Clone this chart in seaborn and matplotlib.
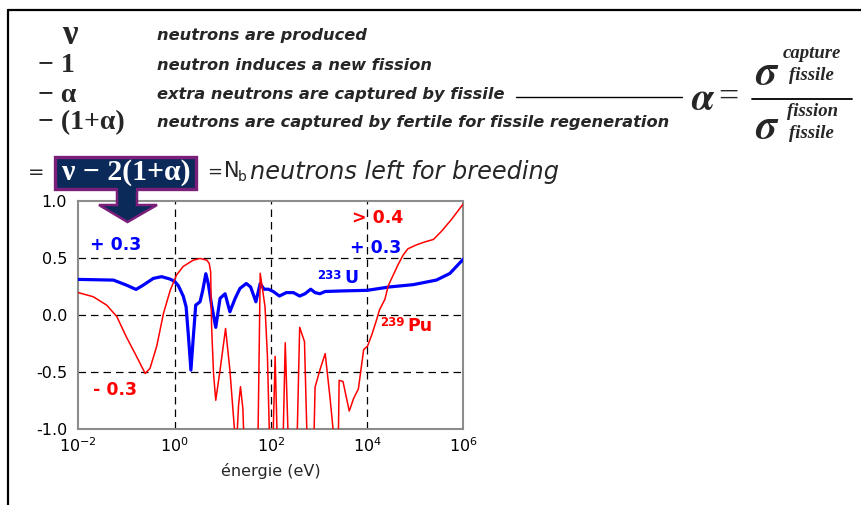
import numpy as np
import pandas as pd
import matplotlib
matplotlib.use("Agg")
import matplotlib.pyplot as plt
from matplotlib.patches import Rectangle, Polygon
from matplotlib.lines import Line2D
import seaborn as sns

# ---------------- data ----------------
red_log_energy = [-2.0, -1.69, -1.41, -1.2, -1.0, -0.79, -0.61, -0.51, -0.37, -0.23, -0.09, 0.04,
                  0.18, 0.39, 0.53, 0.67, 0.72, 0.75, 0.77, 0.81, 0.856, 0.946, 1.06, 1.15, 1.24,
                  1.28, 1.33, 1.37, 1.42, 1.45, 1.73, 1.78, 1.88, 1.93, 1.98, 2.04, 2.09, 2.14,
                  2.25, 2.30, 2.37, 2.54, 2.60, 2.70, 2.76, 2.89, 2.92, 3.02, 3.13, 3.23, 3.34,
                  3.40, 3.42, 3.50, 3.63, 3.72, 3.82, 3.93, 4.01, 4.10, 4.19, 4.26, 4.37, 4.44,
                  4.55, 4.65, 4.75, 4.85, 5.03, 5.2, 5.38, 5.55, 5.75, 6.0]
red_nb = [0.20, 0.164, 0.09, -0.01, -0.19, -0.36, -0.51, -0.465, -0.27, 0.018, 0.22, 0.354,
          0.43, 0.485, 0.50, 0.485, 0.457, 0.385, -0.098, -0.51, -0.745, -0.48, -0.115, -0.48, -0.975,
          -1.2, -0.79, -0.626, -0.82, -1.2, -1.2, 0.37, 0.076, -0.36, -1.2, -1.2, -0.36, -1.2,
          -1.2, -0.24, -1.2, -1.2, -0.105, -0.23, -1.2, -1.2, -0.63, -0.48, -0.335, -0.72, -1.2,
          -1.2, -0.57, -0.58, -0.84, -0.73, -0.645, -0.30, -0.27, -0.168, -0.05, 0.05, 0.14, 0.26,
          0.36, 0.45, 0.53, 0.585, 0.62, 0.645, 0.667, 0.74, 0.84, 0.98]

blue_log_energy = [-2.0, -1.27, -1.0, -0.80, -0.65, -0.44, -0.27, -0.1, 0.0, 0.08, 0.18, 0.24,
                   0.29, 0.34, 0.39, 0.44, 0.53, 0.586, 0.65, 0.70, 0.77, 0.856, 0.89, 0.946,
                   1.05, 1.15, 1.26, 1.36, 1.49, 1.58, 1.69, 1.78, 1.86, 1.95, 2.05, 2.18, 2.32,
                   2.47, 2.60, 2.71, 2.83, 2.92, 3.02, 3.13, 3.5, 4.0, 4.47, 4.96, 5.44, 5.72, 6.0]
blue_nb = [0.316, 0.31, 0.266, 0.228, 0.266, 0.325, 0.34, 0.32, 0.30, 0.26, 0.17, 0.076,
           -0.19, -0.48, -0.19, 0.09, 0.12, 0.22, 0.366, 0.28, 0.09, -0.105, -0.01, 0.15,
           0.19, 0.032, 0.15, 0.237, 0.28, 0.25, 0.12, 0.28, 0.23, 0.23, 0.21, 0.17, 0.20,
           0.20, 0.17, 0.19, 0.23, 0.20, 0.19, 0.21, 0.215, 0.22, 0.25, 0.27, 0.31, 0.368, 0.494]

y_ticks = [-1.0, -0.5, 0.0, 0.5, 1.0]
y_tick_labels = ["-1.0", "-0.5", "0.0", "0.5", "1.0"]
x_ticks = [1e-2, 1e0, 1e2, 1e4, 1e6]
x_grid = [1e0, 1e2, 1e4]
y_grid = [-0.5, 0.0, 0.5]

explain_symbols = ["\u03bd", "\u2212 1", "\u2212 \u03b1", "\u2212 (1+\u03b1)"]
explain_texts = ["neutrons are produced",
                 "neutron induces a new fission",
                 "extra neutrons are captured by fissile",
                 "neutrons are captured by fertile for fissile regeneration"]

# ---------------- figure ----------------
sns.set_style("white")
plt.rcParams["font.family"] = ["DejaVu Sans"]
plt.rcParams["axes.unicode_minus"] = False
plt.rcParams["mathtext.fontset"] = "stix"

W, H = 862, 505
fig = plt.figure(figsize=(W / 100, H / 100), dpi=100)
renderer = fig.canvas.get_renderer()


def fx(x):
    return x / W


def fy(y):
    return 1 - y / H


def fit_text(x, y, s, width, ha="left", va="center", **kw):
    t = fig.text(fx(x), fy(y), s, ha=ha, va=va, fontsize=10, **kw)
    w = t.get_window_extent(renderer=renderer).width
    t.set_fontsize(10 * width / w)
    return t


# slide frame
fig.add_artist(Line2D([fx(8), fx(862)], [fy(10), fy(10)], color="black", lw=1.6))
fig.add_artist(Line2D([fx(8), fx(8)], [fy(10), fy(505)], color="black", lw=1.6))

# ---------------- chart ----------------
ax = fig.add_axes([78.3 / W, 1 - 429.3 / H, (463.3 - 78.3) / W, (429.3 - 201.5) / H])

df_red = pd.DataFrame({"energy": np.power(10.0, red_log_energy), "nb": red_nb})
df_blue = pd.DataFrame({"energy": np.power(10.0, blue_log_energy), "nb": blue_nb})

for v in x_grid:
    ax.axvline(v, color="black", lw=0.9, ls=(0, (6, 4)), zorder=1)
for v in y_grid:
    ax.axhline(v, color="black", lw=0.9, ls=(0, (6, 4)), zorder=1)

sns.lineplot(data=df_blue, x="energy", y="nb", ax=ax, color="#0000ff", lw=2.3,
             sort=False, estimator=None, zorder=3)
sns.lineplot(data=df_red, x="energy", y="nb", ax=ax, color="#ff0000", lw=1.1,
             sort=False, estimator=None, zorder=4)

ax.set_xscale("log")
ax.set_xlim(1e-2, 1e6)
ax.set_ylim(-1.0, 1.0)
ax.set_xticks(x_ticks)
ax.minorticks_off()
ax.set_yticks(y_ticks)
ax.set_yticklabels(y_tick_labels)
ax.tick_params(axis="both", length=0, labelsize=11.5, colors="black")
ax.tick_params(axis="y", pad=8)
ax.tick_params(axis="x", pad=5)
ax.set_ylabel("")
ax.set_xlabel("énergie (eV)", fontsize=11.5, labelpad=6)
for sp in ax.spines.values():
    sp.set_color("#8c8c8c")
    sp.set_linewidth(1.5)
    sp.set_visible(True)

# annotations in the chart
ann = dict(fontsize=12.5, fontweight="bold", va="center", ha="left")
ax.text(10 ** -1.76, 0.617, "+ 0.3", color="#0000ff", **ann)
ax.text(10 ** -1.70, -0.655, "- 0.3", color="#ff0000", **ann)
ax.text(10 ** 3.68, 0.853, "> 0.4", color="#ff0000", **ann)
ax.text(10 ** 3.65, 0.59, "+ 0.3", color="#0000ff", **ann)
ax.text(10 ** 2.97, 0.29, "233", color="#0000ff", fontsize=8.5, fontweight="bold",
        ha="left", va="bottom")
ax.text(10 ** 3.52, 0.245, "U", color="#0000ff", fontsize=12.5, fontweight="bold",
        ha="left", va="bottom")
ax.text(10 ** 4.28, -0.12, "239", color="#ff0000", fontsize=8.5, fontweight="bold",
        ha="left", va="bottom")
ax.text(10 ** 4.83, -0.17, "Pu", color="#ff0000", fontsize=12.5, fontweight="bold",
        ha="left", va="bottom")

# ---------------- explanation text ----------------
rows_y = [35.5, 66.0, 95.0, 123.0]
sym_x = [62, 38, 38, 38]
sym_fs = [25, 20, 20, 20]
for s, yy, xx, fs in zip(explain_symbols, rows_y, sym_x, sym_fs):
    fig.text(fx(xx), fy(yy), s, ha="left", va="center", fontsize=fs,
             family=["Liberation Serif", "DejaVu Serif"], fontweight="bold")

t_long = fit_text(157, rows_y[3], explain_texts[3], 511, family=["DejaVu Sans"],
                  style="italic", fontweight="bold")
fs_long = t_long.get_fontsize()
for s, yy in zip(explain_texts[:3], rows_y[:3]):
    fig.text(fx(157), fy(yy), s, ha="left", va="center", fontsize=fs_long,
             family=["DejaVu Sans"], style="italic", fontweight="bold")

fig.add_artist(Line2D([fx(516), fx(682)], [fy(97), fy(97)], color="black", lw=1.0))

# alpha definition
fig.text(fx(691), fy(99), r"$\boldsymbol{\alpha}$", fontsize=28, ha="left", va="center")
fig.text(fx(718), fy(98), "=", fontsize=26, ha="left", va="center",
         family=["Liberation Serif"])
fig.add_artist(Line2D([fx(752), fx(852)], [fy(99), fy(99)], color="black", lw=1.3))
fig.text(fx(755), fy(72), r"$\boldsymbol{\sigma}$", fontsize=30, ha="left", va="center")
fig.text(fx(783), fy(54), "capture", fontsize=13.5, ha="left", va="center",
         family=["Liberation Serif"], style="italic", fontweight="bold")
fig.text(fx(789), fy(75), "fissile", fontsize=13.5, ha="left", va="center",
         family=["Liberation Serif"], style="italic", fontweight="bold")
fig.text(fx(755), fy(126), r"$\boldsymbol{\sigma}$", fontsize=30, ha="left", va="center")
fig.text(fx(787), fy(112), "fission", fontsize=13.5, ha="left", va="center",
         family=["Liberation Serif"], style="italic", fontweight="bold")
fig.text(fx(789), fy(133), "fissile", fontsize=13.5, ha="left", va="center",
         family=["Liberation Serif"], style="italic", fontweight="bold")

# ---------------- breeding line ----------------
navy = "#0b2a5a"
purple = "#7b1f7b"
fig.text(fx(28), fy(172), "=", fontsize=14, ha="left", va="center")

arrow_pts = [(117, 186), (137, 186), (137, 205), (157, 205), (127.5, 222), (99, 205), (117, 205)]
fig.add_artist(Polygon([(fx(a), fy(b)) for a, b in arrow_pts], closed=True,
                       facecolor=navy, edgecolor=purple, lw=1.8, zorder=5))
fig.add_artist(Rectangle((fx(55.5), fy(188.5)), (196 - 55.5) / W, (188.5 - 156.5) / H,
                         facecolor=navy, edgecolor=purple, lw=2.4, zorder=6))
fig.add_artist(Rectangle((fx(118), fy(193)), (136 - 118) / W, 8 / H,
                         facecolor=navy, edgecolor="none", lw=0, zorder=7))
fit_text(126, 172, "\u03bd \u2212 2(1+\u03b1)", 128, ha="center",
         family=["Liberation Serif", "DejaVu Serif"], fontweight="bold", color="white",
         zorder=8)

fig.text(fx(207), fy(172), "=", fontsize=13, ha="left", va="center")
fig.text(fx(224), fy(171), "N", fontsize=15, ha="left", va="center")
fig.text(fx(238), fy(177), "b", fontsize=10, ha="left", va="center")
fit_text(250, 172, "neutrons left for breeding", 308, family=["DejaVu Sans"],
         style="italic")

fig.savefig("out.png", dpi=100)
